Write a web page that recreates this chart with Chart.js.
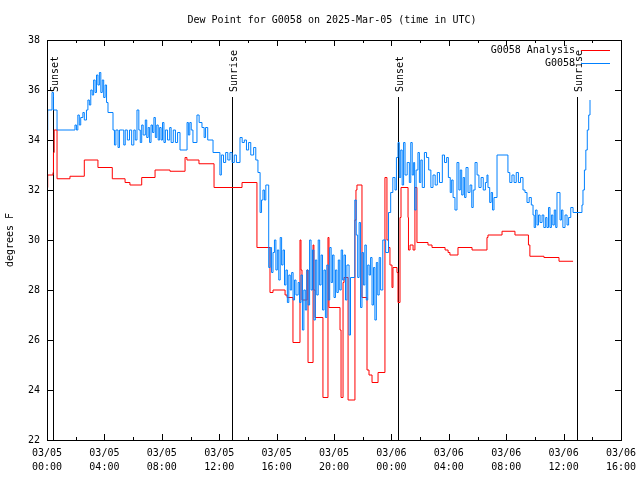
<!DOCTYPE html>
<html>
<head>
<meta charset="utf-8">
<script src="https://cdn.jsdelivr.net/npm/chart.js@4"></script>
<style>
  html, body { margin: 0; padding: 0; background: #fff; }
  canvas { display: block; }
</style>
</head>
<body>
<canvas id="dew" width="640" height="480"></canvas>
<script>
// hours since 03/05 00:00 UTC, dew point in F
const analysisSeries = [
  [0.00,32.1],[0.05,32.6],[0.42,32.7],[0.45,33.5],[0.50,34.4],[0.70,32.45],[1.60,32.55],
  [2.60,33.2],[3.55,32.9],[4.55,32.45],[5.44,32.3],[5.78,32.2],[6.60,32.5],[7.53,32.8],
  [8.57,32.75],[9.62,33.3],[9.75,33.2],[10.59,33.05],[11.64,32.1],[13.59,32.3],[14.63,29.7],
  [15.54,27.9],[15.75,28.0],[16.59,27.8],[16.73,27.7],[17.14,25.9],[17.63,30.0],[17.70,28.8],
  [17.77,27.6],[18.12,28.8],[18.19,25.1],[18.54,29.8],[18.60,28.0],[18.68,26.9],[19.23,23.7],
  [19.58,30.1],[19.65,27.3],[20.42,26.4],[20.49,23.7],[20.63,28.3],[20.70,28.5],[20.98,23.6],
  [21.46,30.8],[21.53,32.0],[21.60,32.2],[21.95,27.7],[22.30,24.8],[22.44,24.6],[22.65,24.3],
  [23.07,24.7],[23.55,32.5],[23.69,30.0],[23.80,29.7],[23.90,29.0],[24.04,28.1],[24.11,28.9],
  [24.39,28.7],[24.46,27.5],[24.60,30.9],[24.67,32.1],[25.16,30.9],[25.19,29.6],[25.30,29.8],
  [25.51,29.6],[25.64,32.1],[25.78,29.9],[26.55,29.8],[26.83,29.7],[27.74,29.6],[27.95,29.5],
  [28.08,29.4],[28.64,29.7],[29.62,29.6],[30.66,30.1],[30.73,30.2],[31.71,30.35],[32.61,30.2],
  [33.55,29.8],[33.65,29.35],[34.63,29.3],[35.68,29.15],[36.66,29.15]
];

const stationSeries = [
  [0.00,34.4],[0.05,35.2],[0.35,35.9],[0.45,35.2],[0.70,34.4],[1.95,34.6],[2.05,34.4],
  [2.15,35.0],[2.25,34.6],[2.35,34.9],[2.50,35.1],[2.60,34.8],[2.75,35.2],[2.85,35.6],
  [2.95,35.4],[3.05,36.0],[3.15,35.8],[3.25,36.4],[3.35,35.9],[3.45,36.6],[3.55,36.2],
  [3.65,36.7],[3.75,35.9],[3.85,36.4],[3.95,35.7],[4.05,36.2],[4.15,35.5],[4.25,35.1],
  [4.60,34.4],[4.70,33.8],[4.80,34.4],[4.95,33.7],[5.05,34.4],[5.25,34.4],[5.35,33.8],
  [5.45,34.4],[5.60,34.0],[5.75,34.4],[5.90,33.8],[6.05,34.4],[6.15,34.0],[6.27,35.2],
  [6.40,34.4],[6.50,33.9],[6.60,34.6],[6.70,34.2],[6.85,34.8],[6.95,34.1],[7.05,34.5],
  [7.15,33.9],[7.25,34.6],[7.35,34.3],[7.45,34.9],[7.55,34.1],[7.65,34.6],[7.75,34.0],
  [7.85,34.5],[7.95,34.0],[8.05,34.7],[8.15,33.9],[8.25,34.4],[8.40,34.0],[8.55,34.5],
  [8.65,33.9],[8.80,34.4],[8.95,33.9],[9.10,34.3],[9.27,33.6],[9.76,34.7],[9.85,34.2],
  [9.95,34.7],[10.05,34.4],[10.17,33.9],[10.45,35.0],[10.60,34.7],[10.80,34.5],[10.95,34.1],
  [11.05,34.5],[11.20,34.0],[11.57,33.5],[12.05,32.6],[12.15,33.4],[12.30,33.1],
  [12.45,33.5],[12.60,33.2],[12.75,33.5],[12.90,33.1],[13.05,33.4],[13.20,33.1],[13.45,34.1],
  [13.60,33.9],[13.75,34.0],[13.90,33.6],[14.05,33.9],[14.20,33.4],[14.40,33.7],[14.55,33.2],
  [14.70,32.7],[14.85,31.1],[14.95,31.6],[15.05,32.0],[15.15,31.6],[15.25,32.2],[15.45,28.9],
  [15.55,29.7],[15.65,28.7],[15.75,29.5],[15.85,30.0],[15.95,28.8],[16.05,29.6],[16.15,28.4],
  [16.25,30.1],[16.35,29.0],[16.45,29.6],[16.55,28.2],[16.65,28.8],[16.75,27.5],[16.85,28.6],
  [16.95,28.0],[17.05,28.7],[17.15,27.6],[17.25,28.4],[17.35,27.8],[17.50,28.3],[17.60,27.5],
  [17.70,28.6],[17.80,26.4],[17.90,28.0],[18.00,27.2],[18.10,28.8],[18.20,27.4],[18.30,30.0],
  [18.40,28.0],[18.50,29.6],[18.60,26.8],[18.70,29.2],[18.80,27.8],[18.90,30.0],[19.00,28.2],
  [19.10,29.4],[19.20,27.2],[19.30,28.8],[19.40,26.9],[19.50,29.0],[19.60,27.6],[19.70,29.7],
  [19.80,28.3],[19.90,29.4],[20.00,27.7],[20.10,28.8],[20.20,27.9],[20.30,29.2],[20.40,28.0],
  [20.50,29.6],[20.60,28.4],[20.70,29.4],[20.80,27.6],[20.90,29.0],[21.05,26.2],[21.15,28.5],
  [21.45,31.6],[21.55,30.2],[21.65,28.5],[21.75,30.7],[21.85,27.3],[21.95,29.5],[22.05,28.2],
  [22.15,29.8],[22.25,27.6],[22.35,29.0],[22.45,28.6],[22.55,29.3],[22.65,27.4],[22.75,28.9],
  [22.85,26.8],[22.95,29.1],[23.05,27.8],[23.15,29.3],[23.25,28.0],[23.40,30.0],[23.60,29.5],
  [23.80,31.1],[23.95,31.9],[24.10,32.5],[24.25,32.0],[24.35,33.3],[24.46,33.9],[24.55,32.5],
  [24.65,33.6],[24.75,32.2],[24.85,33.9],[24.95,32.6],[25.10,33.1],[25.25,32.3],[25.35,33.9],
  [25.45,32.6],[25.55,33.1],[25.62,31.2],[25.72,32.8],[25.85,33.5],[25.95,32.3],[26.05,33.2],
  [26.15,32.1],[26.30,33.5],[26.45,33.3],[26.60,32.8],[26.75,32.1],[26.90,32.6],[27.05,32.2],
  [27.20,32.7],[27.35,32.3],[27.55,33.4],[27.70,33.1],[27.85,33.3],[27.97,32.5],[28.10,31.9],
  [28.20,32.4],[28.30,31.7],[28.43,31.2],[28.57,33.1],[28.70,32.0],[28.80,32.8],[28.90,31.8],
  [29.00,32.5],[29.10,31.7],[29.20,32.9],[29.34,31.9],[29.48,32.2],[29.60,31.3],[29.70,32.0],
  [29.83,33.1],[29.97,32.6],[30.10,32.1],[30.25,32.5],[30.40,32.0],[30.55,32.3],[30.66,32.6],
  [30.73,32.1],[30.85,31.5],[30.95,31.9],[31.05,31.2],[31.15,31.7],[31.36,33.4],[32.12,32.7],
  [32.25,32.3],[32.40,32.6],[32.55,32.3],[32.70,32.7],[32.85,32.3],[33.00,32.5],[33.17,32.0],
  [33.31,31.9],[33.45,31.5],[33.60,31.7],[33.75,31.4],[33.87,31.0],[33.95,30.5],[34.05,31.2],
  [34.15,30.6],[34.25,31.0],[34.36,30.7],[34.50,31.0],[34.62,30.5],[34.75,30.9],[34.84,30.5],
  [34.95,31.3],[35.05,30.5],[35.15,31.0],[35.25,30.6],[35.35,31.2],[35.45,30.5],[35.54,31.9],
  [35.75,30.8],[35.85,31.2],[35.95,30.5],[36.10,31.0],[36.24,30.6],[36.35,30.9],[36.50,31.3],
  [36.66,31.1],[37.28,31.4],[37.35,32.0],[37.45,32.8],[37.55,33.6],[37.65,34.4],[37.75,35.0],
  [37.84,35.6]
];

const xTickHours = [0, 4, 8, 12, 16, 20, 24, 28, 32, 36, 40];
const xTickLabels = [
  ['03/05','00:00'],['03/05','04:00'],['03/05','08:00'],['03/05','12:00'],['03/05','16:00'],
  ['03/05','20:00'],['03/06','00:00'],['03/06','04:00'],['03/06','08:00'],['03/06','12:00'],
  ['03/06','16:00']
];
const yTicks = [22, 24, 26, 28, 30, 32, 34, 36, 38];
const sunTimes = [0.42, 12.89, 24.46, 36.93];
const sunLabels = ['Sunset', 'Sunrise', 'Sunset', 'Sunrise'];

const FONT = '10px "DejaVu Sans Mono", "Liberation Mono", monospace';

const gnuplotFrame = {
  id: 'gnuplotFrame',
  beforeDraw(chart) {
    const ctx = chart.ctx;
    ctx.save();
    ctx.fillStyle = '#fff';
    ctx.fillRect(0, 0, chart.width, chart.height);
    ctx.restore();
  },
  beforeDatasetsDraw(chart) {
    const { ctx, chartArea: a, scales } = chart;
    ctx.save();
    ctx.strokeStyle = '#000';
    ctx.lineWidth = 1;
    ctx.fillStyle = '#000';
    ctx.font = FONT;
    sunTimes.forEach((t, i) => {
      const x = Math.round(scales.x.getPixelForValue(t)) + 0.5;
      ctx.beginPath();
      ctx.moveTo(x, a.top + 57);
      ctx.lineTo(x, a.bottom);
      ctx.stroke();
      ctx.save();
      ctx.translate(x + 2, a.top + 52);
      ctx.rotate(-Math.PI / 2);
      ctx.textAlign = 'left';
      ctx.textBaseline = 'middle';
      ctx.fillText(sunLabels[i], 0, 0);
      ctx.restore();
    });
    ctx.restore();
  },
  afterDatasetsDraw(chart) {
    const { ctx, chartArea: a, scales } = chart;
    ctx.save();
    ctx.strokeStyle = '#000';
    ctx.lineWidth = 1;
    ctx.fillStyle = '#000';
    ctx.font = FONT;

    // border
    ctx.strokeRect(a.left + 0.5, a.top + 0.5, a.right - a.left, a.bottom - a.top);

    // y ticks, mirrored on the right
    ctx.textAlign = 'right';
    ctx.textBaseline = 'middle';
    yTicks.forEach(v => {
      const y = Math.round(scales.y.getPixelForValue(v)) + 0.5;
      ctx.beginPath();
      ctx.moveTo(a.left, y); ctx.lineTo(a.left + 6, y);
      ctx.moveTo(a.right, y); ctx.lineTo(a.right - 6, y);
      ctx.stroke();
      ctx.fillText(String(v), a.left - 7, y);
    });

    // x ticks (major every 4 h, minor every 2 h), mirrored on top
    for (let h = 0; h <= 40; h += 2) {
      const x = Math.round(scales.x.getPixelForValue(h)) + 0.5;
      const len = h % 4 === 0 ? 6 : 3;
      ctx.beginPath();
      ctx.moveTo(x, a.bottom); ctx.lineTo(x, a.bottom - len);
      ctx.moveTo(x, a.top); ctx.lineTo(x, a.top + len);
      ctx.stroke();
    }
    ctx.textAlign = 'center';
    xTickHours.forEach((h, i) => {
      const x = scales.x.getPixelForValue(h);
      ctx.fillText(xTickLabels[i][0], x, a.bottom + 13);
      ctx.fillText(xTickLabels[i][1], x, a.bottom + 27);
    });

    // title and axis label
    ctx.fillText('Dew Point for G0058 on 2025-Mar-05 (time in UTC)', 332, 20);
    ctx.save();
    ctx.translate(10, (a.top + a.bottom) / 2);
    ctx.rotate(-Math.PI / 2);
    ctx.fillText('degrees F', 0, 0);
    ctx.restore();

    // legend, gnuplot style
    ctx.textAlign = 'right';
    chart.data.datasets.forEach((ds, i) => {
      const y = a.top + 10 + i * 13;
      ctx.fillStyle = '#000';
      ctx.fillText(ds.label, a.right - 46, y);
      ctx.strokeStyle = ds.borderColor;
      ctx.beginPath();
      ctx.moveTo(a.right - 40, Math.round(y) + 0.5);
      ctx.lineTo(a.right - 11, Math.round(y) + 0.5);
      ctx.stroke();
    });
    ctx.restore();
  }
};

const toXY = s => s.map(p => ({ x: p[0], y: p[1] }));

new Chart(document.getElementById('dew'), {
  type: 'line',
  data: {
    datasets: [
      { label: 'G0058 Analysis', data: toXY(analysisSeries), borderColor: '#ff0000', borderWidth: 1,
        pointRadius: 0, stepped: true, fill: false, order: 1 },
      { label: 'G0058', data: toXY(stationSeries), borderColor: '#0080ff', borderWidth: 1,
        pointRadius: 0, stepped: true, fill: false, order: 0 }
    ]
  },
  options: {
    responsive: false,
    animation: false,
    layout: { padding: { left: 47, right: 19, top: 40, bottom: 40 } },
    plugins: { legend: { display: false }, title: { display: false }, tooltip: { enabled: false } },
    scales: {
      x: { type: 'linear', min: 0, max: 40, display: false },
      y: { min: 22, max: 38, display: false }
    }
  },
  plugins: [gnuplotFrame]
});
</script>
</body>
</html>
